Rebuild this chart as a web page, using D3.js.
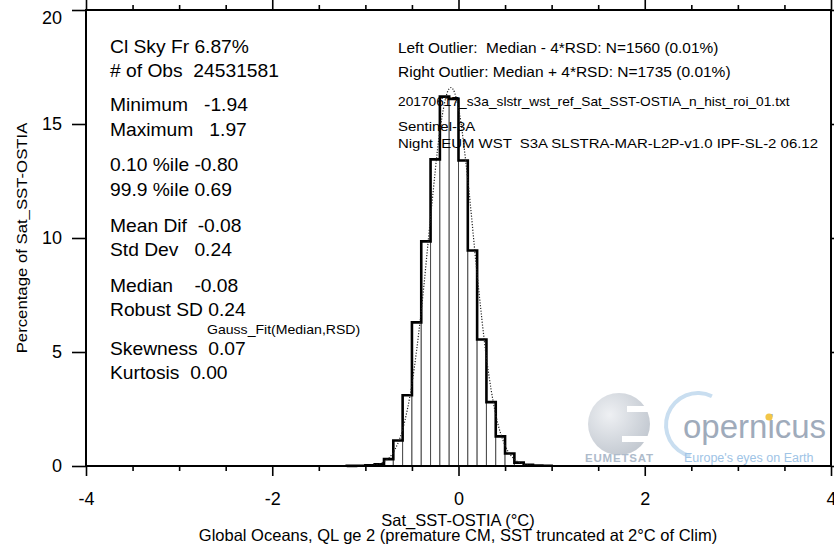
<!DOCTYPE html>
<html>
<head>
<meta charset="utf-8">
<script src="https://cdnjs.cloudflare.com/ajax/libs/d3/7.8.5/d3.min.js"></script>
<style>
  body { margin: 0; background: #fff; }
  svg text { font-family: "Liberation Sans", Arial, Helvetica, sans-serif; white-space: pre; }
</style>
</head>
<body>
<svg id="main_histogram"></svg>
<script>

// left edge of each 0.1 wide bin, and percentage of obs in it
let binEdges = [-1.2, -1.1, -1.0, -0.9, -0.8, -0.7, -0.6, -0.5, -0.4, -0.3, -0.2,
                -0.1, 0.0, 0.1, 0.2, 0.3, 0.4, 0.5, 0.6, 0.7, 0.8, 0.9]
let binPercent = [0.005, 0.01, 0.03, 0.08, 0.3, 1.12, 3.1, 6.3, 9.85, 13.45, 16.2,
                  16.1, 13.4, 9.45, 5.55, 2.8, 1.3, 0.55, 0.15, 0.05, 0.02, 0.01]
let binWidth = 0.1

// dotted gauss fit
let gaussX = [-1.0, -0.9, -0.8, -0.7, -0.6, -0.5, -0.4, -0.3, -0.2, -0.1, -0.08,
              0.0, 0.1, 0.2, 0.3, 0.4, 0.5, 0.6, 0.7, 0.8]
let gaussY = [0.01, 0.05, 0.19, 0.6, 1.6, 3.6, 6.8, 10.9, 14.7, 16.55, 16.6,
              15.7, 12.55, 8.4, 4.75, 2.25, 0.9, 0.3, 0.09, 0.02]

// axis ticks
let xMajorTicks = [-4, -2, 0, 2, 4]
let xMinorTicks = [-3.5, -3, -2.5, -1.5, -1, -0.5, 0.5, 1, 1.5, 2.5, 3, 3.5]
let yTicks = [0, 5, 10, 15, 20]

// stats block on the left
let statLines = [
  ["Cl Sky Fr 6.87%", 53],
  ["# of Obs  24531581", 77],
  ["Minimum   -1.94", 111],
  ["Maximum   1.97", 135.5],
  ["0.10 %ile -0.80", 171],
  ["99.9 %ile 0.69", 195.5],
  ["Mean Dif  -0.08", 231.5],
  ["Std Dev   0.24", 256],
  ["Median    -0.08", 291.5],
  ["Robust SD 0.24", 316],
  ["Skewness  0.07", 355],
  ["Kurtosis  0.00", 379]
]

// info block on the right
let infoLines = [
  ["Left Outlier:  Median - 4*RSD: N=1560 (0.01%)", 53, 14],
  ["Right Outlier: Median + 4*RSD: N=1735 (0.01%)", 77, 14.1],
  ["20170617_s3a_slstr_wst_ref_Sat_SST-OSTIA_n_hist_roi_01.txt", 106, 12.5],
  ["Sentinel-3A", 131, 13.6],
  ["Night  EUM WST  S3A SLSTRA-MAR-L2P-v1.0 IPF-SL-2 06.12", 148, 13.6]
]

function getConfig() {
  let width = 834
  let height = 546
  let margin = { top: 10, left: 86, right: 3, bottom: 80 }
  let bodyWidth = width - margin.left - margin.right
  let bodyHeight = height - margin.top - margin.bottom
  let container = d3.select("#main_histogram")
    .attr("width", width)
    .attr("height", height)
  return { width, height, margin, bodyWidth, bodyHeight, container }
}

function getScales(config) {
  let { margin, bodyWidth, bodyHeight } = config
  let xScale = d3.scaleLinear()
    .domain([-4, 4])
    .range([margin.left, margin.left + bodyWidth])
  let yScale = d3.scaleLinear()
    .domain([0, 20])
    .range([margin.top + bodyHeight, margin.top])
  return { xScale, yScale }
}

// text helper, the original font is a bit wider than Helvetica
function addText(g, x, y, str, size, sx) {
  return g.append("text")
    .attr("transform", `translate(${x},${y}) scale(${sx || 1.1},1)`)
    .style("font-size", size + "px")
    .style("fill", "#000")
    .text(str)
}

function drawAxes(scales, config) {
  let { xScale, yScale } = scales
  let { container, margin, bodyHeight, bodyWidth } = config
  let bottom = margin.top + bodyHeight
  let right = margin.left + bodyWidth

  // bottom axis, minor then major
  container.append("g")
    .attr("transform", `translate(0,${bottom})`)
    .call(d3.axisBottom(xScale).tickValues(xMinorTicks).tickSize(5).tickFormat(""))
  container.append("g")
    .attr("class", "bottomaxis")
    .attr("transform", `translate(0,${bottom})`)
    .call(d3.axisBottom(xScale).tickValues(xMajorTicks).tickSize(10).tickPadding(16)
      .tickFormat(d => String(d)))

  // top axis
  container.append("g")
    .attr("transform", `translate(0,${margin.top})`)
    .call(d3.axisTop(xScale).tickValues(xMinorTicks).tickSize(5).tickFormat(""))
  container.append("g")
    .attr("transform", `translate(0,${margin.top})`)
    .call(d3.axisTop(xScale).tickValues(xMajorTicks).tickSize(10).tickFormat(""))

  // left + right axis
  container.append("g")
    .attr("class", "leftaxis")
    .attr("transform", `translate(${margin.left},0)`)
    .call(d3.axisLeft(yScale).tickValues(yTicks).tickSize(14).tickPadding(10))
  container.append("g")
    .attr("transform", `translate(${right},0)`)
    .call(d3.axisRight(yScale).tickValues(yTicks).tickSize(14).tickFormat(""))

  container.selectAll(".domain").remove()
  container.selectAll(".tick line").attr("stroke", "#000").attr("stroke-width", 1.6)
  container.selectAll(".bottomaxis text, .leftaxis text")
    .style("font-size", "18px")
    .attr("fill", "#000")
  // the 20 label sits a little below its tick
  container.selectAll(".leftaxis .tick text")
    .filter(d => d == 20)
    .attr("dy", "0.75em")

  // frame
  container.append("rect")
    .attr("x", margin.left)
    .attr("y", margin.top)
    .attr("width", bodyWidth)
    .attr("height", bodyHeight)
    .attr("fill", "none")
    .attr("stroke", "#000")
    .attr("stroke-width", 2)
}

function drawBars(scales, config) {
  let { xScale, yScale } = scales
  let { container } = config
  let bins = binEdges.map((x0, i) => ({ x0: x0, x1: x0 + binWidth, v: binPercent[i] }))

  container.append("g")
    .selectAll("rect")
    .data(bins)
    .enter()
    .append("rect")
      .attr("x", d => xScale(d.x0))
      .attr("y", d => yScale(d.v))
      .attr("width", d => xScale(d.x1) - xScale(d.x0))
      .attr("height", d => yScale(0) - yScale(d.v))
      .attr("fill", "#fff")
      .attr("stroke", "#4a4a4a")
      .attr("stroke-width", 1)

  // thick step outline
  let pts = [[bins[0].x0, 0]]
  bins.forEach(d => pts.push([d.x0, d.v]))
  pts.push([bins[bins.length - 1].x1, 0])
  let step = d3.line()
    .x(d => xScale(d[0]))
    .y(d => yScale(d[1]))
    .curve(d3.curveStepAfter)
  container.append("path")
    .attr("d", step(pts))
    .attr("fill", "none")
    .attr("stroke", "#000")
    .attr("stroke-width", 2.6)
}

function drawGauss(scales, config) {
  let { xScale, yScale } = scales
  let line = d3.line()
    .x((d, i) => xScale(gaussX[i]))
    .y(d => yScale(d))
    .curve(d3.curveMonotoneX)
  config.container.append("path")
    .attr("d", line(gaussY))
    .attr("fill", "none")
    .attr("stroke", "#222")
    .attr("stroke-width", 1.2)
    .attr("stroke-dasharray", "1.2,1.6")
}

function drawTexts(config) {
  let { container } = config
  let g = container.append("g")
  statLines.forEach(d => addText(g, 110, d[1], d[0], 17.5))
  addText(g, 207, 334, "Gauss_Fit(Median,RSD)", 12.8)
  infoLines.forEach(d => addText(g, 398, d[1], d[0], d[2]))

  // axis titles
  g.append("text")
    .attr("transform", "translate(27,238) rotate(-90) scale(1.08,1)")
    .attr("text-anchor", "middle")
    .style("font-size", "15.5px")
    .text("Percentage of Sat_SST-OSTIA")
  g.append("text")
    .attr("x", 458)
    .attr("y", 526)
    .attr("text-anchor", "middle")
    .style("font-size", "16.5px")
    .text("Sat_SST-OSTIA (°C)")
  g.append("text")
    .attr("x", 458)
    .attr("y", 541)
    .attr("text-anchor", "middle")
    .style("font-size", "16.5px")
    .text("Global Oceans, QL ge 2 (premature CM, SST truncated at 2°C of Clim)")
}

// faint EUMETSAT / Copernicus watermark, bottom right
function drawLogo(config) {
  let { container } = config
  let g = container.append("g")

  g.append("rect")
    .attr("x", 583).attr("y", 386)
    .attr("width", 251).attr("height", 77)
    .attr("fill", "#fff").attr("opacity", 0.55)

  let defs = container.append("defs")
  let grad = defs.append("radialGradient")
    .attr("id", "globe").attr("cx", "35%").attr("cy", "35%").attr("r", "70%")
  grad.append("stop").attr("offset", "0%").attr("stop-color", "#eef0f3")
  grad.append("stop").attr("offset", "100%").attr("stop-color", "#c3c9d1")

  g.append("circle")
    .attr("cx", 619).attr("cy", 424).attr("r", 31)
    .attr("fill", "url(#globe)")
  g.append("rect").attr("x", 627).attr("y", 406).attr("width", 26).attr("height", 6).attr("fill", "#fff")
  g.append("rect").attr("x", 622).attr("y", 436).attr("width", 31).attr("height", 6).attr("fill", "#fff")

  g.append("text")
    .attr("x", 585).attr("y", 462)
    .style("font-size", "11.5px")
    .style("font-weight", "bold")
    .style("letter-spacing", "0.8px")
    .attr("fill", "#aebbcb")
    .text("EUMETSAT")

  let arc = d3.arc()
    .innerRadius(30).outerRadius(34)
    .startAngle(-2.9).endAngle(0.45)
  g.append("path")
    .attr("transform", "translate(698,425)")
    .attr("d", arc())
    .attr("fill", "#c9def0")

  g.append("text")
    .attr("x", 683).attr("y", 438)
    .style("font-size", "33px")
    .attr("fill", "#9fabbb")
    .text("opernicus")
  g.append("circle")
    .attr("cx", 769).attr("cy", 417).attr("r", 3.6)
    .attr("fill", "#f2c648")

  g.append("text")
    .attr("x", 684).attr("y", 462)
    .style("font-size", "12.5px")
    .attr("fill", "#a0c4e6")
    .text("Europe's eyes on Earth")
}

function showData() {
  let config = getConfig()
  let scales = getScales(config)
  drawLogo(config)
  drawBars(scales, config)
  drawGauss(scales, config)
  drawAxes(scales, config)
  drawTexts(config)
}

showData()
</script>
</body>
</html>
